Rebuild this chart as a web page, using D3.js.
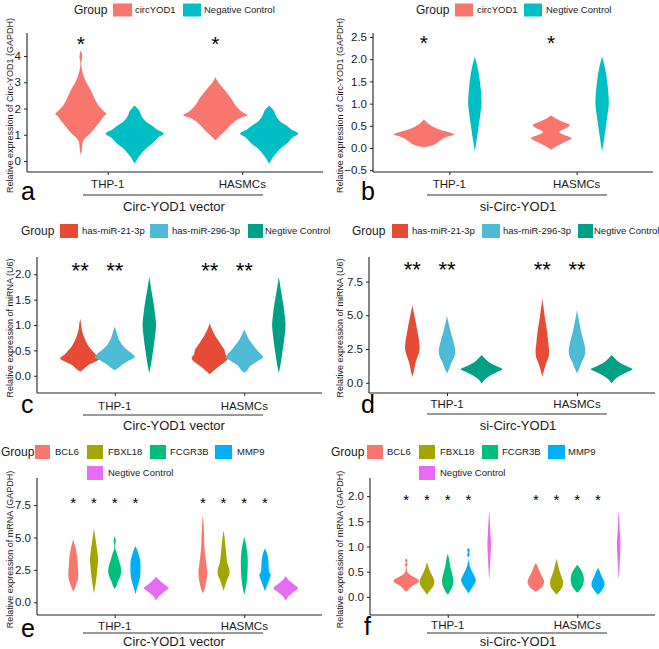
<!DOCTYPE html>
<html><head><meta charset="utf-8">
<script src="https://cdn.jsdelivr.net/npm/d3@7"></script>
<style>
body{margin:0;background:#fff}
svg{display:block}
text{font-family:"Liberation Sans",Arial,Helvetica,sans-serif;fill:#1a1a1a}
</style>
</head><body>
<svg id="chart" width="659" height="649"></svg>
<script>
// ---------------- DATA ----------------
const categories = ["THP-1", "HASMCs"];

const groupsA = ["circYOD1", "Negative Control"];
const groupsB = ["circYOD1", "Negtive Control"];
const groupsMir = ["has-miR-21-3p", "has-miR-296-3p", "Negtive Control"];
const groupsMrna = ["BCL6", "FBXL18", "FCGR3B", "MMP9", "Negtive Control"];

const colorsTwo = ["#F8766D", "#00BFC4"];
const colorsMir = ["#E64B35", "#4DBBD5", "#00A087"];
const colorsMrna = ["#F8766D", "#A3A500", "#00BF7D", "#00B0F6", "#E76BF3"];

const subtitleVector = "Circ-YOD1  vector";
const subtitleSi = "si-Circ-YOD1";
const yTitleCirc = "Relative expression of Circ-YOD1 (GAPDH)";
const yTitleMir = "Relative expression of miRNA (U6)";
const yTitleMrna = "Relative expression of mRNA (GAPDH)";

// y-axis ticks per panel
const ticksA = [0, 1, 2, 3, 4];
const ticksB = [-0.5, 0, 0.5, 1, 1.5, 2, 2.5];
const ticksC = [0, 0.5, 1, 1.5, 2];
const ticksD = [0, 2.5, 5, 7.5];
const ticksE = [0, 2.5, 5, 7.5];
const ticksF = [0, 0.5, 1, 1.5, 2];

// violin profiles: [value, density] (density = half-width, hundredths of a category step)
// panel a
const aTHP1 = [
  [[4.22,0],[4.1,0.7],[3.96,1],[3.82,0.5],[3.7,0.3],[3.55,0.6],[3.39,1.2],[3.2,2.4],[3.0,4],[2.69,7.5],[2.31,11],[2.06,14],[1.9,17],[1.8,19],[1.7,17],[1.55,15],[1.3,11],[1.04,6.7],[0.91,4],[0.79,2],[0.6,1],[0.4,0.7],[0.22,0]],
  [[2.12,0],[1.95,3],[1.68,5.5],[1.5,8.5],[1.36,12.5],[1.2,16.5],[1.04,21.6],[0.9,17.5],[0.66,13],[0.5,9],[0.34,6],[0.15,3],[0.03,1.5],[-0.1,0]]
];
const aHASMC = [
  [[3.2,0],[3.0,2],[2.82,5],[2.44,11],[2.06,16],[1.87,20],[1.74,24],[1.65,19],[1.55,15.5],[1.3,10],[1.04,5],[0.9,2],[0.79,0]],
  [[2.12,0],[1.95,3],[1.68,5.5],[1.5,8.5],[1.36,12.5],[1.2,16.5],[1.04,21.6],[0.9,17.5],[0.66,13],[0.5,9],[0.34,6],[0.15,3],[0.03,1.5],[-0.1,0]]
];
// panel b
const bTHP1 = [
  [[0.65,0],[0.56,3],[0.49,6.5],[0.43,11],[0.375,17],[0.33,22],[0.3,24],[0.27,20],[0.225,16],[0.15,12],[0.075,8],[0.04,4],[0.02,0]],
  [[2.06,0],[1.84,2],[1.5,4],[1.2,5],[1.01,5.3],[0.8,4.5],[0.49,3],[0.19,1.5],[-0.08,0]]
];
const bHASMC = [
  [[0.73,0],[0.66,4],[0.58,10],[0.52,14.5],[0.45,12],[0.38,7],[0.35,6.5],[0.3,10],[0.22,16],[0.15,12],[0.08,7],[0.02,3],[-0.04,0]],
  [[2.06,0],[1.84,2],[1.5,4],[1.2,5],[1.01,5.3],[0.8,4.5],[0.49,3],[0.19,1.5],[-0.08,0]]
];
// panel c
const cTHP1 = [
  [[1.13,0],[1.0,0.8],[0.9,1.3],[0.8,2.5],[0.7,4],[0.6,6],[0.5,9],[0.42,12],[0.34,15.5],[0.28,12],[0.22,7],[0.15,3.5],[0.08,0]],
  [[0.97,0],[0.85,1.5],[0.7,3.5],[0.6,6],[0.5,10],[0.42,14],[0.37,15.5],[0.3,11],[0.22,6],[0.15,2.5],[0.11,0]],
  [[1.95,0],[1.7,1.5],[1.4,3.5],[1.2,4.5],[1.0,5.2],[0.8,4.5],[0.5,3],[0.25,1.5],[0.05,0]]
];
const cHASMC = [
  [[1.03,0],[0.9,2],[0.8,4],[0.7,6.5],[0.6,9],[0.5,11.5],[0.43,12],[0.35,14],[0.3,13],[0.2,8],[0.12,4],[0.03,0]],
  [[0.91,0],[0.8,2],[0.7,4],[0.6,7],[0.5,10],[0.42,13],[0.37,14.5],[0.3,11],[0.2,5],[0.1,2],[0.06,0]],
  [[1.95,0],[1.7,1.5],[1.4,3.5],[1.2,4.5],[1.0,5.2],[0.8,4.5],[0.5,3],[0.25,1.5],[0.05,0]]
];
// panel d
const dTHP1 = [
  [[5.77,0],[5.0,1.5],[4.3,3],[3.5,4.5],[3.0,5.3],[2.6,5.6],[2.2,5],[1.8,3.5],[1.3,2],[0.8,1],[0.45,0]],
  [[4.95,0],[4.3,1.5],[3.7,3],[3.2,4.5],[2.7,5.8],[2.3,6.4],[1.9,5.5],[1.5,3.5],[1.0,1.5],[0.7,0]],
  [[2.05,0],[1.8,2.5],[1.5,6],[1.2,12],[1.0,16],[0.8,12],[0.5,6],[0.2,2],[-0.05,0]]
];
const dHASMC = [
  [[6.26,0],[5.5,1],[4.5,2.5],[3.7,3.8],[3.0,4.5],[2.4,5.2],[2.0,5],[1.5,3.2],[1.0,1.5],[0.45,0]],
  [[5.4,0],[4.6,1.5],[3.9,3],[3.3,4.5],[2.8,5.8],[2.3,6.4],[1.9,5.5],[1.5,3.5],[1.0,1.5],[0.7,0]],
  [[2.05,0],[1.8,2.5],[1.5,6],[1.2,12],[1.0,16],[0.8,12],[0.5,6],[0.2,2],[-0.05,0]]
];
// panel e
const eTHP1 = [
  [[4.86,0],[4.3,1.5],[3.7,2.7],[3.2,3.2],[2.7,3.5],[2.2,3.9],[1.8,3.5],[1.4,2.3],[1.0,0.8],[0.82,0]],
  [[5.71,0],[5.0,1],[4.3,2],[3.7,2.8],[3.26,3.1],[2.8,2.8],[2.3,2.3],[1.8,1.7],[1.3,1],[0.69,0]],
  [[5.1,0],[4.8,0.8],[4.5,0.5],[4.3,0.2],[4.1,0.5],[3.8,1.5],[3.3,3],[2.8,4.5],[2.4,5.1],[2.0,4.2],[1.6,2.5],[1.2,1],[1.05,0]],
  [[4.34,0],[4.0,1.5],[3.5,3],[3.0,3.9],[2.5,3.9],[2.0,3.6],[1.5,2.5],[1.0,1],[0.62,0]],
  [[1.98,0],[1.7,2.5],[1.4,6],[1.08,9.5],[0.8,6],[0.5,2.5],[0.12,0]]
];
const eHASMC = [
  [[6.74,0],[6.0,0.6],[5.0,1],[4.2,1.3],[3.5,2],[2.9,2.8],[2.3,3.4],[1.8,3],[1.3,2],[0.9,1],[0.69,0]],
  [[5.58,0],[5.0,0.8],[4.3,1.5],[3.6,2.2],[3.0,3],[2.5,4.5],[2.2,4.6],[1.8,3],[1.3,1.3],[0.87,0]],
  [[5.06,0],[4.5,1.3],[3.8,2.3],[3.2,2.7],[2.6,2.6],[2.0,2.3],[1.5,1.8],[1.0,1],[0.56,0]],
  [[4.16,0],[3.8,1.5],[3.3,2.5],[2.8,2.8],[2.4,3],[2.1,4.4],[1.8,3.5],[1.4,2],[0.87,0]],
  [[2.03,0],[1.7,2.5],[1.4,6],[1.08,9.5],[0.8,6],[0.5,2.5],[0.12,0]]
];
// panel f
const fTHP1 = [
  [[0.76,0],[0.72,1],[0.68,0.3],[0.64,1],[0.6,0.3],[0.53,0.5],[0.47,1.5],[0.42,4],[0.38,7],[0.33,9.8],[0.28,9],[0.24,6],[0.18,3],[0.12,1],[0.1,0]],
  [[0.69,0],[0.6,1],[0.5,2.5],[0.42,4],[0.35,5.3],[0.3,5.7],[0.22,5],[0.15,3],[0.08,1],[0.04,0]],
  [[0.86,0],[0.75,1],[0.6,2],[0.5,3],[0.4,4],[0.3,4.4],[0.2,3.5],[0.12,2],[0.04,0]],
  [[0.97,0],[0.93,1],[0.88,0.5],[0.83,1],[0.78,0],[0.7,0.3],[0.62,1],[0.52,2.5],[0.42,4.5],[0.33,5.7],[0.25,4.5],[0.15,2],[0.07,0]],
  [[1.72,0],[1.5,0.5],[1.25,1],[1.05,1.4],[0.8,1],[0.55,0.5],[0.33,0]]
];
const fHASMC = [
  [[0.67,0],[0.6,1.5],[0.5,3],[0.4,5],[0.3,6.4],[0.22,5.5],[0.15,3],[0.1,0]],
  [[0.76,0],[0.65,1],[0.5,2.5],[0.4,3.8],[0.3,5],[0.22,4.8],[0.12,2.5],[0.04,0]],
  [[0.64,0],[0.55,2.5],[0.45,4.5],[0.35,5.1],[0.25,4.5],[0.15,2.5],[0.08,0]],
  [[0.58,0],[0.5,1.5],[0.4,3],[0.32,4.5],[0.25,5.1],[0.15,3.5],[0.08,1.5],[0.04,0]],
  [[1.72,0],[1.5,0.5],[1.25,1],[1.05,1.4],[0.8,1],[0.55,0.5],[0.33,0]]
];

// significance marks: [category, group index, text, value]
const sigA = [["THP-1",0,"*",4.66],["HASMCs",0,"*",4.66]];
const sigB = [["THP-1",0,"*",2.47],["HASMCs",0,"*",2.47]];
const sigC = [["THP-1",0,"**",2.18],["THP-1",1,"**",2.18],["HASMCs",0,"**",2.18],["HASMCs",1,"**",2.18]];
const sigD = [["THP-1",0,"**",8.74],["THP-1",1,"**",8.74],["HASMCs",0,"**",8.74],["HASMCs",1,"**",8.74]];
const sigE = [["THP-1",0,"*",7.97],["THP-1",1,"*",7.97],["THP-1",2,"*",7.97],["THP-1",3,"*",7.97],
              ["HASMCs",0,"*",7.97],["HASMCs",1,"*",7.97],["HASMCs",2,"*",7.97],["HASMCs",3,"*",7.97]];
const sigF = [["THP-1",0,"*",2.0],["THP-1",1,"*",2.0],["THP-1",2,"*",2.0],["THP-1",3,"*",2.0],
              ["HASMCs",0,"*",2.0],["HASMCs",1,"*",2.0],["HASMCs",2,"*",2.0],["HASMCs",3,"*",2.0]];

// ---------------- LAYOUT ----------------
const svg = d3.select("#chart");
const FONT = '"Liberation Sans",Arial,Helvetica,sans-serif';

const panels = [
  {letter:"a", x0:27, x1:323, y0:33, y1:172, dom:[-0.42,4.88], ticks:ticksA, fmt:d3.format("d"),
   groups:groupsA, colors:colorsTwo, prof:[aTHP1,aHASMC], sig:sigA, sigFs:21,
   ytitle:yTitleCirc, ytx:10, sub:subtitleVector, catBase:188, lineY:195, lineX:[83,263], subBase:211,
   letterX:21, letterBase:200,
   legend:{gx:74, cy:10, kh:13, items:[[113,19,135,0],[183,18,204,0]]}},
  {letter:"b", x0:373, x1:653, y0:33, y1:172, dom:[-0.54,2.59], ticks:ticksB, fmt:d3.format(".1f"),
   groups:groupsB, colors:colorsTwo, prof:[bTHP1,bHASMC], sig:sigB, sigFs:21,
   ytitle:yTitleCirc, ytx:340, sub:subtitleSi, catBase:188, lineY:195, lineX:[427,607], subBase:211,
   letterX:361, letterBase:200,
   legend:{gx:416, cy:10, kh:13, items:[[455,18,477,0],[524,18,546,0]]}},
  {letter:"c", x0:37, x1:322, y0:257, y1:393, dom:[-0.34,2.34], ticks:ticksC, fmt:d3.format(".1f"),
   groups:groupsMir, colors:colorsMir, prof:[cTHP1,cHASMC], sig:sigC, sigFs:22,
   ytitle:yTitleMir, ytx:10, sub:subtitleVector, catBase:410, lineY:415, lineX:[83,263], subBase:430,
   letterX:21, letterBase:413,
   legend:{gx:21, cy:231, kh:14, items:[[60,18,82,0],[150,18,172,0],[248,15,265,0]]}},
  {letter:"d", x0:369, x1:655, y0:257, y1:393, dom:[-0.76,9.32], ticks:ticksD, fmt:d3.format(".1f"),
   groups:groupsMir, colors:colorsMir, prof:[dTHP1,dHASMC], sig:sigD, sigFs:22,
   ytitle:yTitleMir, ytx:340, sub:subtitleSi, catBase:408, lineY:414, lineX:[427,607], subBase:430,
   letterX:361, letterBase:413,
   legend:{gx:352, cy:231, kh:14, items:[[392,16,412,0],[482,18,503,0],[578,15,594,0]]}},
  {letter:"e", x0:37, x1:322, y0:478, y1:615, dom:[-0.98,9.59], ticks:ticksE, fmt:d3.format(".1f"),
   groups:groupsMrna, colors:colorsMrna, prof:[eTHP1,eHASMC], sig:sigE, sigFs:15,
   ytitle:yTitleMrna, ytx:10, sub:subtitleVector, catBase:630, lineY:633, lineX:[83,263], subBase:646,
   letterX:21, letterBase:637,
   legend:{gx:1, cy:452, kh:14, row2:21, items:[[35,15,55,0],[87,16,108,0],[150,16,170,0],[215,17,237,0],[87,16,108,1]]}},
  {letter:"f", x0:370, x1:655, y0:478, y1:615, dom:[-0.36,2.36], ticks:ticksF, fmt:d3.format(".1f"),
   groups:groupsMrna, colors:colorsMrna, prof:[fTHP1,fHASMC], sig:sigF, sigFs:15,
   ytitle:yTitleMrna, ytx:340, sub:subtitleSi, catBase:629, lineY:633, lineX:[427,607], subBase:646,
   letterX:364, letterBase:635,
   legend:{gx:331, cy:452, kh:14, row2:21, items:[[367,16,387,0],[419,16,440,0],[482,16,502,0],[548,17,568,0],[419,16,440,1]]}}
];

const DODGE = 0.8;

panels.forEach(p => {
  const g = svg.append("g");
  const x = d3.scalePoint().domain(categories).range([p.x0, p.x1]).padding(0.6);
  const step = x.step();
  const y = d3.scaleLinear().domain(p.dom).range([p.y1, p.y0]);
  const n = p.groups.length;
  const off = i => (-DODGE/2 + DODGE/n*(i+0.5)) * step;

  // violins
  categories.forEach((cat, ci) => {
    p.prof[ci].forEach((prof, gi) => {
      const cx = x(cat) + off(gi);
      const area = d3.area()
        .y(d => y(d[0]))
        .x0(d => cx - d[1]/100*step)
        .x1(d => cx + d[1]/100*step)
        .curve(d3.curveMonotoneY);
      g.append("path").attr("d", area(prof)).attr("fill", p.colors[gi]);
    });
  });

  // significance marks
  p.sig.forEach(s => {
    g.append("text")
      .attr("x", x(s[0]) + off(s[1]))
      .attr("y", y(s[3]) + p.sigFs*0.57)
      .attr("text-anchor", "middle")
      .style("font-size", p.sigFs + "px")
      .style("fill", "#000")
      .text(s[2]);
  });

  // axes
  const ya = g.append("g").attr("transform", `translate(${p.x0},0)`)
    .call(d3.axisLeft(y).tickValues(p.ticks).tickFormat(p.fmt).tickSize(3).tickPadding(3));
  ya.select(".domain").attr("d", `M-0,${p.y0}V${p.y1}`);
  const xa = g.append("g").attr("transform", `translate(0,${p.y1})`)
    .call(d3.axisBottom(x).tickSize(3).tickFormat(""));
  xa.select(".domain").attr("d", `M${p.x0},0H${p.x1}`);
  [ya, xa].forEach(a => {
    a.selectAll(".domain").attr("stroke", "#222").attr("stroke-width", 1.1);
    a.selectAll(".tick line").attr("stroke", "#222").attr("stroke-width", 1);
    a.selectAll(".tick text").style("font-size", "11.5px").style("font-family", FONT).attr("fill", "#1a1a1a");
  });

  // category labels
  categories.forEach(cat => {
    g.append("text").attr("x", x(cat)).attr("y", p.catBase)
      .attr("text-anchor", "middle").style("font-size", "11.5px").text(cat);
  });

  // bracket line + subtitle
  g.append("line").attr("x1", p.lineX[0]).attr("x2", p.lineX[1])
    .attr("y1", p.lineY).attr("y2", p.lineY).attr("stroke", "#333").attr("stroke-width", 1);
  g.append("text").attr("x", (p.lineX[0]+p.lineX[1])/2 + 1).attr("y", p.subBase)
    .attr("text-anchor", "middle").style("font-size", "13px").text(p.sub);

  // panel letter
  g.append("text").attr("x", p.letterX).attr("y", p.letterBase)
    .style("font-size", "25px").style("fill", "#000").text(p.letter);

  // y title
  g.append("text")
    .attr("transform", `translate(${p.ytx + 3},${(p.y0 + p.y1)/2 + 3}) rotate(-90)`)
    .attr("text-anchor", "middle").style("font-size", "9px").text(p.ytitle);

  // legend
  const L = p.legend;
  g.append("text").attr("x", L.gx).attr("y", L.cy).attr("dy", "0.35em")
    .style("font-size", "12px").text("Group");
  L.items.forEach((it, i) => {
    const cy = L.cy + (it[3] ? L.row2 : 0);
    g.append("rect").attr("x", it[0]).attr("y", cy - L.kh/2).attr("width", it[1]).attr("height", L.kh)
      .attr("fill", p.colors[i]);
    g.append("text").attr("x", it[2]).attr("y", cy).attr("dy", "0.35em")
      .style("font-size", "9.5px").text(p.groups[i]);
  });
});
</script>
</body></html>
